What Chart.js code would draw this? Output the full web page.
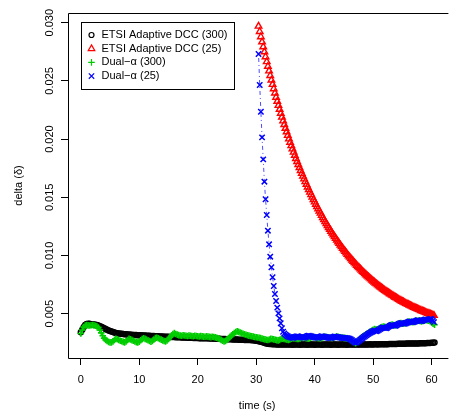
<!DOCTYPE html>
<html>
<head>
<meta charset="utf-8">
<title>delta over time</title>
<script src="https://cdn.jsdelivr.net/npm/chart.js@4.4.1/dist/chart.umd.min.js"></script>
<style>
  html, body { margin: 0; padding: 0; background: #fff; overflow: hidden; }
  canvas { display: block; }
</style>
</head>
<body>
<canvas id="myChart" width="452" height="413"></canvas>
<script>
'use strict';

// ************ DATA

// tick labels
let xTicks = [0, 10, 20, 30, 40, 50, 60];
let yTicks = [0.005, 0.010, 0.015, 0.020, 0.025, 0.030];
let yTickLabels = ['0.005', '0.010', '0.015', '0.020', '0.025', '0.030'];

// series names, in legend order
let seriesNames = ['ETSI Adaptive DCC (300)', 'ETSI Adaptive DCC (25)', 'Dual−α (300)', 'Dual−α (25)'];

// sampling grid of each run (seconds)
let etsi300Start = 0, etsi300Step = 0.25;
let etsi25Start = 30.4, etsi25Step = 0.2;
let dual300Start = 0, dual300Step = 0.25;
let dual25Start = 30.4, dual25Step = 0.2;

// ETSI Adaptive DCC (300) - black circles
let etsi300 = [
  0.00340, 0.00362, 0.00385, 0.00402, 0.00412, 0.00414, 0.00413, 0.00410,
  0.00408, 0.00407, 0.00405, 0.00402, 0.00398, 0.00393, 0.00387, 0.00381,
  0.00375, 0.00369, 0.00362, 0.00356, 0.00351, 0.00346, 0.00342, 0.00338,
  0.00335, 0.00332, 0.00330, 0.00328, 0.00327, 0.00325, 0.00324, 0.00323,
  0.00322, 0.00321, 0.00320, 0.00319, 0.00318, 0.00317, 0.00316, 0.00315,
  0.00314, 0.00314, 0.00313, 0.00312, 0.00312, 0.00311, 0.00310, 0.00310,
  0.00309, 0.00308, 0.00308, 0.00307, 0.00306, 0.00306, 0.00305, 0.00304,
  0.00304, 0.00303, 0.00302, 0.00302, 0.00301, 0.00300, 0.00300, 0.00299,
  0.00299, 0.00298, 0.00298, 0.00297, 0.00297, 0.00296, 0.00296, 0.00295,
  0.00295, 0.00294, 0.00294, 0.00293, 0.00293, 0.00292, 0.00292, 0.00291,
  0.00291, 0.00290, 0.00290, 0.00289, 0.00289, 0.00289, 0.00288, 0.00288,
  0.00287, 0.00287, 0.00286, 0.00286, 0.00285, 0.00285, 0.00284, 0.00284,
  0.00283, 0.00283, 0.00282, 0.00282, 0.00281, 0.00281, 0.00280, 0.00280,
  0.00279, 0.00279, 0.00278, 0.00278, 0.00277, 0.00277, 0.00276, 0.00276,
  0.00275, 0.00275, 0.00274, 0.00274, 0.00273, 0.00272, 0.00271, 0.00270,
  0.00268, 0.00266, 0.00263, 0.00260, 0.00256, 0.00252, 0.00248, 0.00245,
  0.00242, 0.00240, 0.00239, 0.00238, 0.00237, 0.00237, 0.00236, 0.00236,
  0.00236, 0.00235, 0.00235, 0.00236, 0.00235, 0.00235, 0.00236, 0.00235,
  0.00235, 0.00234, 0.00235, 0.00235, 0.00236, 0.00235, 0.00234, 0.00235,
  0.00235, 0.00236, 0.00235, 0.00234, 0.00235, 0.00235, 0.00236, 0.00235,
  0.00234, 0.00235, 0.00235, 0.00236, 0.00235, 0.00234, 0.00235, 0.00235,
  0.00236, 0.00235, 0.00235, 0.00234, 0.00235, 0.00236, 0.00235, 0.00235,
  0.00234, 0.00235, 0.00236, 0.00235, 0.00235, 0.00235, 0.00234, 0.00235,
  0.00236, 0.00235, 0.00235, 0.00236, 0.00235, 0.00235, 0.00236, 0.00236,
  0.00235, 0.00236, 0.00236, 0.00235, 0.00236, 0.00236, 0.00237, 0.00236,
  0.00236, 0.00237, 0.00237, 0.00236, 0.00237, 0.00237, 0.00238, 0.00237,
  0.00238, 0.00238, 0.00238, 0.00239, 0.00239, 0.00239, 0.00240, 0.00240,
  0.00240, 0.00241, 0.00241, 0.00241, 0.00242, 0.00242, 0.00242, 0.00243,
  0.00243, 0.00243, 0.00244, 0.00244, 0.00244, 0.00245, 0.00245, 0.00245,
  0.00246, 0.00246, 0.00247, 0.00247, 0.00247, 0.00248, 0.00248, 0.00249,
  0.00250, 0.00251, 0.00252
];

// ETSI Adaptive DCC (25) - red triangles
let etsi25 = [
  0.02970, 0.02924, 0.02879, 0.02835, 0.02792, 0.02749, 0.02707, 0.02665, 0.02625, 0.02585,
  0.02546, 0.02507, 0.02469, 0.02432, 0.02395, 0.02359, 0.02324, 0.02289, 0.02255, 0.02221,
  0.02188, 0.02156, 0.02124, 0.02092, 0.02062, 0.02031, 0.02001, 0.01972, 0.01943, 0.01915,
  0.01887, 0.01860, 0.01833, 0.01807, 0.01781, 0.01755, 0.01730, 0.01705, 0.01681, 0.01657,
  0.01634, 0.01611, 0.01588, 0.01566, 0.01544, 0.01522, 0.01501, 0.01480, 0.01460, 0.01440,
  0.01420, 0.01401, 0.01382, 0.01363, 0.01344, 0.01326, 0.01309, 0.01291, 0.01274, 0.01257,
  0.01240, 0.01224, 0.01208, 0.01192, 0.01177, 0.01161, 0.01146, 0.01132, 0.01117, 0.01103,
  0.01089, 0.01075, 0.01062, 0.01048, 0.01035, 0.01022, 0.01010, 0.00997, 0.00985, 0.00973,
  0.00961, 0.00950, 0.00938, 0.00927, 0.00916, 0.00905, 0.00895, 0.00884, 0.00874, 0.00864,
  0.00854, 0.00844, 0.00834, 0.00825, 0.00816, 0.00807, 0.00798, 0.00789, 0.00780, 0.00772,
  0.00763, 0.00755, 0.00747, 0.00739, 0.00731, 0.00724, 0.00716, 0.00709, 0.00701, 0.00694,
  0.00687, 0.00680, 0.00673, 0.00667, 0.00660, 0.00654, 0.00647, 0.00641, 0.00635, 0.00629,
  0.00623, 0.00617, 0.00611, 0.00606, 0.00600, 0.00595, 0.00589, 0.00584, 0.00579, 0.00574,
  0.00569, 0.00564, 0.00559, 0.00554, 0.00550, 0.00545, 0.00541, 0.00536, 0.00532, 0.00527,
  0.00523, 0.00519, 0.00515, 0.00511, 0.00507, 0.00503, 0.00499, 0.00496, 0.00492, 0.00488,
  0.00485
];

// Dual-alpha (300) - green crosses
let dual300 = [
  0.00330, 0.00360, 0.00385, 0.00398, 0.00402, 0.00400, 0.00398, 0.00401,
  0.00403, 0.00400, 0.00396, 0.00392, 0.00380, 0.00360, 0.00335, 0.00310,
  0.00290, 0.00275, 0.00265, 0.00258, 0.00254, 0.00252, 0.00262, 0.00275,
  0.00285, 0.00280, 0.00274, 0.00268, 0.00263, 0.00258, 0.00254, 0.00262,
  0.00274, 0.00284, 0.00279, 0.00273, 0.00267, 0.00261, 0.00256, 0.00252,
  0.00260, 0.00272, 0.00283, 0.00289, 0.00284, 0.00278, 0.00272, 0.00266,
  0.00260, 0.00266, 0.00278, 0.00290, 0.00294, 0.00289, 0.00283, 0.00277,
  0.00271, 0.00266, 0.00262, 0.00270, 0.00283, 0.00298, 0.00312, 0.00325,
  0.00333, 0.00326, 0.00320, 0.00316, 0.00313, 0.00311, 0.00315, 0.00313,
  0.00310, 0.00309, 0.00312, 0.00310, 0.00308, 0.00306, 0.00310, 0.00308,
  0.00306, 0.00304, 0.00307, 0.00305, 0.00303, 0.00302, 0.00305, 0.00303,
  0.00301, 0.00299, 0.00302, 0.00300, 0.00297, 0.00293, 0.00288, 0.00282,
  0.00275, 0.00268, 0.00262, 0.00265, 0.00275, 0.00288, 0.00300, 0.00312,
  0.00324, 0.00334, 0.00342, 0.00348, 0.00344, 0.00338, 0.00333, 0.00328,
  0.00323, 0.00319, 0.00315, 0.00312, 0.00309, 0.00306, 0.00303, 0.00300,
  0.00298, 0.00296, 0.00293, 0.00290, 0.00286, 0.00282, 0.00279, 0.00276,
  0.00274, 0.00278, 0.00284, 0.00282, 0.00279, 0.00276, 0.00273, 0.00271,
  0.00275, 0.00282, 0.00286, 0.00283, 0.00280, 0.00277, 0.00275, 0.00279,
  0.00286, 0.00292, 0.00290, 0.00287, 0.00284, 0.00282, 0.00287, 0.00294,
  0.00297, 0.00294, 0.00291, 0.00288, 0.00286, 0.00291, 0.00298, 0.00301,
  0.00298, 0.00295, 0.00292, 0.00290, 0.00288, 0.00293, 0.00299, 0.00302,
  0.00300, 0.00297, 0.00295, 0.00293, 0.00291, 0.00295, 0.00300, 0.00303,
  0.00301, 0.00298, 0.00296, 0.00294, 0.00292, 0.00290, 0.00288, 0.00285,
  0.00280, 0.00272, 0.00262, 0.00252, 0.00246, 0.00255, 0.00268, 0.00280,
  0.00292, 0.00303, 0.00313, 0.00322, 0.00330, 0.00338, 0.00346, 0.00354,
  0.00362, 0.00368, 0.00365, 0.00362, 0.00370, 0.00378, 0.00385, 0.00390,
  0.00387, 0.00384, 0.00390, 0.00397, 0.00402, 0.00406, 0.00402, 0.00399,
  0.00404, 0.00411, 0.00417, 0.00420, 0.00416, 0.00413, 0.00418, 0.00425,
  0.00430, 0.00433, 0.00429, 0.00426, 0.00430, 0.00436, 0.00440, 0.00442,
  0.00438, 0.00434, 0.00438, 0.00443, 0.00446, 0.00443, 0.00439, 0.00435,
  0.00425, 0.00415, 0.00405
];

// Dual-alpha (25) - blue x, dot-dash line
let dual25 = [
  0.02731, 0.02465, 0.02235, 0.02015, 0.01826, 0.01634, 0.01483, 0.01348, 0.01213, 0.01096,
  0.00990, 0.00899, 0.00813, 0.00738, 0.00669, 0.00609, 0.00552, 0.00503, 0.00460, 0.00418,
  0.00375, 0.00345, 0.00330, 0.00320, 0.00312, 0.00306, 0.00301, 0.00298, 0.00296,
  0.00294, 0.00293, 0.00297, 0.00302, 0.00306, 0.00304, 0.00301, 0.00299, 0.00297, 0.00295,
  0.00294, 0.00298, 0.00304, 0.00309, 0.00311, 0.00308, 0.00305, 0.00302, 0.00300, 0.00298,
  0.00296, 0.00295, 0.00293, 0.00297, 0.00303, 0.00307, 0.00305, 0.00302, 0.00300, 0.00298,
  0.00296, 0.00294, 0.00293, 0.00292, 0.00296, 0.00301, 0.00304, 0.00302, 0.00300, 0.00298,
  0.00296, 0.00295, 0.00294, 0.00293, 0.00292, 0.00291, 0.00290, 0.00289, 0.00287, 0.00284,
  0.00279, 0.00272, 0.00264, 0.00256, 0.00250, 0.00252, 0.00260, 0.00268, 0.00276, 0.00284,
  0.00292, 0.00300, 0.00307, 0.00314, 0.00320, 0.00327, 0.00333, 0.00339, 0.00345, 0.00350,
  0.00355, 0.00352, 0.00350, 0.00355, 0.00362, 0.00369, 0.00376, 0.00381, 0.00379, 0.00377,
  0.00375, 0.00380, 0.00387, 0.00394, 0.00399, 0.00403, 0.00400, 0.00398, 0.00396, 0.00400,
  0.00406, 0.00412, 0.00417, 0.00420, 0.00418, 0.00415, 0.00413, 0.00417, 0.00423, 0.00429,
  0.00433, 0.00431, 0.00428, 0.00426, 0.00430, 0.00435, 0.00440, 0.00443, 0.00441, 0.00438,
  0.00436, 0.00439, 0.00444, 0.00448, 0.00451, 0.00449, 0.00447, 0.00451, 0.00455, 0.00452,
  0.00440, 0.00428
];

// ************ HELPERS

function toPoints(start, step, values) {
  let points = [];
  for (let i = 0; i < values.length; i++) {
    points.push({ x: start + i * step, y: values[i] });
  }
  return points;
}

// box around the plot, rotated y tick labels (R style) and the legend
const rFrame = {
  id: 'rFrame',
  afterDraw(chart) {
    const ctx = chart.ctx;
    const area = chart.chartArea;
    const yScale = chart.scales.y;

    ctx.save();
    ctx.strokeStyle = '#000';
    ctx.lineWidth = 1;
    ctx.beginPath();
    ctx.moveTo(area.right + 2, area.top + 0.5);
    ctx.lineTo(area.left + 0.5, area.top + 0.5);
    ctx.lineTo(area.left + 0.5, area.bottom + 0.5);
    ctx.lineTo(area.right + 2, area.bottom + 0.5);
    ctx.stroke();

    // y tick labels, parallel to the axis
    ctx.fillStyle = '#000';
    ctx.font = '11px "Liberation Sans", Arial, sans-serif';
    ctx.textAlign = 'center';
    ctx.textBaseline = 'alphabetic';
    for (let i = 0; i < yTicks.length; i++) {
      ctx.save();
      ctx.translate(52.5, yScale.getPixelForValue(yTicks[i]));
      ctx.rotate(-Math.PI / 2);
      ctx.fillText(yTickLabels[i], 0, 0);
      ctx.restore();
    }

    // legend
    const boxLeft = 81.5, boxTop = 22.5, boxRight = 234.5, boxBottom = 89.5;
    ctx.fillStyle = '#fff';
    ctx.fillRect(boxLeft, boxTop, boxRight - boxLeft, boxBottom - boxTop);
    ctx.strokeRect(boxLeft, boxTop, boxRight - boxLeft, boxBottom - boxTop);

    const datasets = chart.data.datasets;
    for (let i = 0; i < datasets.length; i++) {
      const ds = datasets[i];
      const rowY = 35 + i * 13.7;
      ctx.strokeStyle = ds.pointBorderColor;
      ctx.fillStyle = 'rgba(0,0,0,0)';
      ctx.lineWidth = 1.2;
      Chart.helpers.drawPoint(ctx, {
        pointStyle: ds.pointStyle,
        radius: ds.pointRadius,
        rotation: 0,
        borderWidth: 1.2
      }, 91.5, rowY);
      ctx.fillStyle = '#000';
      ctx.textAlign = 'left';
      ctx.textBaseline = 'middle';
      ctx.fillText(ds.label, 101.5, rowY);
    }
    ctx.restore();
  }
};

// ************ CHART

Chart.defaults.font.family = '"Liberation Sans", Arial, sans-serif';
Chart.defaults.font.size = 11;
Chart.defaults.color = '#000';

const ctx = document.getElementById('myChart').getContext('2d');

const chartObj = {
  type: 'scatter',
  data: {
    datasets: [{
      label: seriesNames[0],
      data: toPoints(etsi300Start, etsi300Step, etsi300),
      pointStyle: 'circle',
      pointRadius: 2.5,
      pointBorderWidth: 1.5,
      pointBorderColor: '#000000',
      pointBackgroundColor: 'rgba(0,0,0,0)',
      showLine: false,
      order: 4
    },
    {
      label: seriesNames[1],
      data: toPoints(etsi25Start, etsi25Step, etsi25),
      pointStyle: 'triangle',
      pointRadius: 3.8,
      pointBorderWidth: 1.4,
      pointBorderColor: '#ff0000',
      pointBackgroundColor: 'rgba(0,0,0,0)',
      showLine: false,
      order: 3
    },
    {
      label: seriesNames[2],
      data: toPoints(dual300Start, dual300Step, dual300),
      pointStyle: 'cross',
      pointRadius: 3.3,
      pointBorderWidth: 1.6,
      pointBorderColor: '#00cd00',
      pointBackgroundColor: 'rgba(0,0,0,0)',
      showLine: false,
      order: 2
    },
    {
      label: seriesNames[3],
      data: toPoints(dual25Start, dual25Step, dual25),
      pointStyle: 'crossRot',
      pointRadius: 3.8,
      pointBorderWidth: 1.5,
      pointBorderColor: '#0000ff',
      pointBackgroundColor: 'rgba(0,0,0,0)',
      showLine: true,
      borderColor: 'rgba(0,0,255,0.7)',
      borderWidth: 1,
      borderDash: [1, 3, 4, 3],
      order: 1
    }]
  },
  options: {
    responsive: false,
    animation: false,
    events: [],
    devicePixelRatio: 1,
    layout: { padding: { top: 13, left: 0, right: 0, bottom: 0 } },
    plugins: {
      legend: { display: false },
      tooltip: { enabled: false }
    },
    scales: {
      x: {
        type: 'linear',
        min: -2.19,
        max: 62.53,
        afterBuildTicks: (scale) => { scale.ticks = xTicks.map(v => ({ value: v })); },
        afterFit: (scale) => { scale.height = 55; },
        ticks: { autoSkip: false, maxRotation: 0, padding: 8, font: { size: 11 } },
        grid: { drawOnChartArea: false, drawTicks: true, tickLength: 7, color: '#000', lineWidth: 1 },
        border: { display: false },
        title: { display: true, text: 'time (s)', padding: { top: 0, bottom: 0.4 }, font: { size: 11 } }
      },
      y: {
        type: 'linear',
        min: 0.001194,
        max: 0.030833,
        afterBuildTicks: (scale) => { scale.ticks = yTicks.map(v => ({ value: v })); },
        afterFit: (scale) => { scale.width = 68; },
        ticks: { display: false },
        grid: { drawOnChartArea: false, drawTicks: true, tickLength: 7, color: '#000', lineWidth: 1 },
        border: { display: false },
        title: { display: true, text: 'delta (δ)', padding: { top: 12.5, bottom: 0 }, font: { size: 11 } }
      }
    }
  },
  plugins: [rFrame]
};

const myChart = new Chart(ctx, chartObj); // eslint-disable-line
</script>
</body>
</html>
